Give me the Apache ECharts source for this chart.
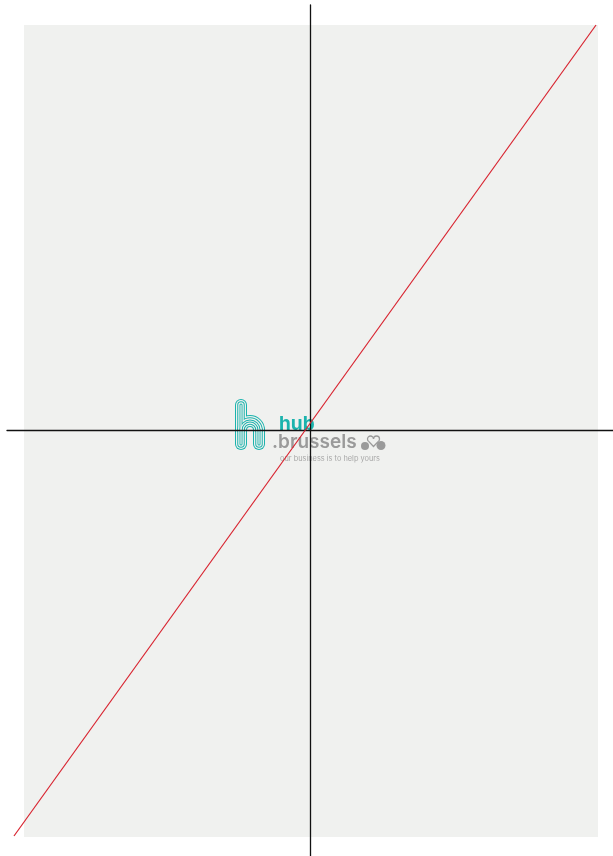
<!DOCTYPE html>
<html>
<head>
<meta charset="utf-8">
<script src="https://cdn.jsdelivr.net/npm/echarts@6/dist/echarts.min.js"></script>
<style>
  html, body { margin: 0; padding: 0; background: #fff; }
  #chart { width: 613px; height: 856px; }
</style>
</head>
<body>
<div id="chart"></div>
<script>
// data (axes cross at 0, both run -1..1)
var lineX = [-0.977, 0.944];
var lineY = [-0.953, 0.953];
var axisRange = [-1, 1];

var panelBg = '#f0f1ef';
var teal = '#1bb3ad';

var myChart = echarts.init(document.getElementById('chart'));

// "h" of the logo drawn as nested outlines (wide teal, then bg, then teal...)
var hLayers = [
    {w: 12, c: teal},
    {w: 10, c: panelBg},
    {w: 7.5, c: teal},
    {w: 5.5, c: panelBg},
    {w: 3, c: teal},
    {w: 1.2, c: panelBg}
];
var logo = [];
hLayers.forEach(function (l, i) {
    var st = {fill: null, stroke: l.c, lineWidth: l.w, lineCap: 'round'};
    var z = 1 + i * 0.01;
    logo.push(
        {type: 'line', z: z, shape: {x1: 241, y1: 405, x2: 241, y2: 444}, style: st},
        {type: 'arc', z: z, shape: {cx: 250, cy: 430, r: 9, startAngle: Math.PI, endAngle: Math.PI * 2, clockwise: true}, style: st},
        {type: 'line', z: z, shape: {x1: 259, y1: 430, x2: 259, y2: 444}, style: st}
    );
});
var grey = '#9a9a9a';
logo.push(
    {
        type: 'text', z: 1, left: 279, top: 415,
        style: {text: 'hub', fill: teal, font: 'bold 19px Inter, Roboto, sans-serif'}
    },
    {
        type: 'text', z: 1, left: 272, top: 433,
        style: {text: '.brussels', fill: grey, font: '600 19px Inter, Roboto, sans-serif'}
    },
    {
        type: 'text', z: 1, left: 280, top: 455,
        style: {text: 'our business is to help yours', fill: '#a8a8a8', font: '7.4px Inter, Roboto, sans-serif'}
    },
    // little heart + clouds mark
    {type: 'arc', z: 1, shape: {cx: 370.5, cy: 439, r: 3, startAngle: Math.PI * 0.75, endAngle: Math.PI * 2, clockwise: true},
     style: {fill: null, stroke: grey, lineWidth: 1.3}},
    {type: 'arc', z: 1, shape: {cx: 376.5, cy: 439, r: 3, startAngle: Math.PI, endAngle: Math.PI * 2.25, clockwise: true},
     style: {fill: null, stroke: grey, lineWidth: 1.3}},
    {type: 'polyline', z: 1, shape: {points: [[368.4, 441.1], [373.5, 446.5], [378.6, 441.1]]},
     style: {fill: null, stroke: grey, lineWidth: 1.3}},
    {type: 'circle', z: 1, shape: {cx: 365, cy: 446, r: 4}, style: {fill: grey}},
    {type: 'circle', z: 1, shape: {cx: 381, cy: 445.5, r: 4.5}, style: {fill: grey}}
);

option = {
    animation: false,
    backgroundColor: '#fff',
    grid: [
        {left: 7, top: 5, right: 0, bottom: 0, z: 2},           // axes cross
        {left: 24, top: 25, width: 574, height: 812, show: true, // grey panel
         backgroundColor: panelBg, borderWidth: 0, z: 0}
    ],
    xAxis: [
        {
            type: 'value', gridIndex: 0, min: axisRange[0], max: axisRange[1], z: 3,
            axisLine: {onZero: true, lineStyle: {color: '#111', width: 1.3}},
            axisTick: {show: false}, axisLabel: {show: false}, splitLine: {show: false}
        },
        {type: 'value', gridIndex: 1, show: false, splitLine: {show: false}}
    ],
    yAxis: [
        {
            type: 'value', gridIndex: 0, min: axisRange[0], max: axisRange[1], z: 3,
            axisLine: {onZero: true, lineStyle: {color: '#111', width: 1.3}},
            axisTick: {show: false}, axisLabel: {show: false}, splitLine: {show: false}
        },
        {type: 'value', gridIndex: 1, show: false, splitLine: {show: false}}
    ],
    graphic: logo,
    series: [
        {
            type: 'line',
            xAxisIndex: 0,
            yAxisIndex: 0,
            z: 4,
            data: lineX.map(function (x, i) { return [x, lineY[i]]; }),
            symbol: 'none',
            lineStyle: {color: '#d8232f', width: 1.2}
        }
    ]
};

myChart.setOption(option);
</script>
</body>
</html>
